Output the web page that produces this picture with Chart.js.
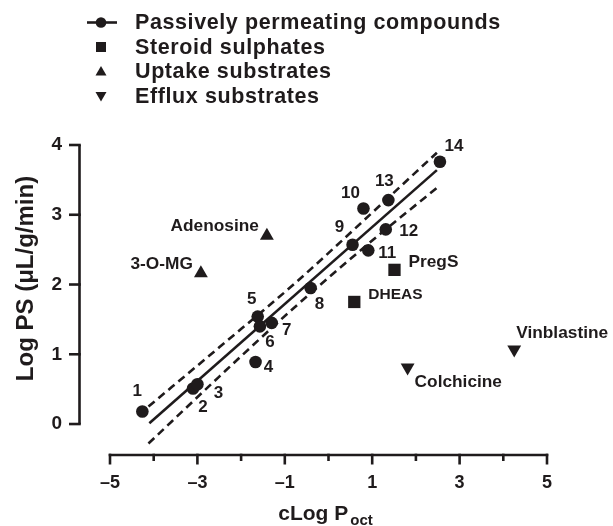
<!DOCTYPE html>
<html>
<head>
<meta charset="utf-8">
<script src="https://cdn.jsdelivr.net/npm/chart.js@4/dist/chart.umd.min.js"></script>
<style>
html,body{margin:0;padding:0;background:#fff;}
#wrap{width:613px;height:526px;position:relative;}
</style>
</head>
<body>
<div id="wrap"><canvas id="c" width="613" height="526"></canvas></div>
<script>
// ---- data ----
const xTicks = [-5,-4,-3,-2,-1,0,1,2,3,4,5];
const yTicks = [0,1,2,3,4];
const passiveLabels = ['1','2','3','4','5','6','7','8','9','10','11','12','13','14'];
const passiveX = [-4.26,-3.10,-3.00,-1.67,-1.62,-1.57,-1.30,-0.41,0.55,0.80,0.91,1.31,1.37,2.55];
const passiveY = [0.18,0.51,0.57,0.89,1.54,1.40,1.45,1.95,2.57,3.09,2.49,2.79,3.21,3.76];
const steroidNames = ['PregS','DHEAS'];
const steroidX = [1.51,0.59];
const steroidY = [2.21,1.75];
const uptakeNames = ['Adenosine','3-O-MG'];
const uptakeX = [-1.41,-2.92];
const uptakeY = [2.70,2.16];
const effluxNames = ['Vinblastine','Colchicine'];
const effluxX = [4.25,1.81];
const effluxY = [1.07,0.81];
const fitX = [-4.10,2.48];
const fitY = [0.01,3.64];
const upperX = [-4.12,-2.5,-0.8,1.0,2.48];
const upperY = [0.25,1.10,2.00,3.03,3.89];
const lowerX = [-4.12,-2.5,-0.8,1.0,2.51];
const lowerY = [-0.28,0.68,1.66,2.63,3.40];
const legendNames = ['Passively permeating compounds','Steroid sulphates','Uptake substrates','Efflux substrates'];
const xTitle = 'cLog P';
const xTitleSub = 'oct';
const yTitle = 'Log PS (\u03BCL/g/min)';

// ---- styles ----
const INK = '#1f1b1c';
const FONT = '"Liberation Sans", Arial, Helvetica, sans-serif';
const numOffsets = [[-5,-20],[10,19],[21,9],[13,5],[-6,-17],[10,16],[15,7],[9,16],[-13,-17],[-13,-15],[19,3],[23,2],[-4,-19],[14,-15]];
const steroidOffsets = [[14,-8,'left'],[14,-7,'left']];
const uptakeOffsets = [[-8,-9,'right'],[-8,-9,'right']];
const effluxOffsets = [[2,-16,'left'],[7,15,'left']];

const pts = (xs, ys) => xs.map((x,i)=>({x:x, y:ys[i]}));

const annotate = {
  id:'annotate',
  beforeDatasetsDraw(chart){
    const ctx = chart.ctx, xs = chart.scales.x, ys = chart.scales.y;
    ctx.save();
    ctx.strokeStyle = INK; ctx.lineWidth = 2.6; ctx.lineCap = 'butt';
    // y axis
    const ax = 79.5;
    ctx.beginPath();
    ctx.moveTo(ax, ys.getPixelForValue(4)); ctx.lineTo(ax, ys.getPixelForValue(0));
    ctx.stroke();
    yTicks.forEach(v=>{
      const p = ys.getPixelForValue(v);
      ctx.beginPath(); ctx.moveTo(69, p); ctx.lineTo(ax+1.3, p); ctx.stroke();
    });
    // x axis
    const ay = 455;
    ctx.beginPath();
    ctx.moveTo(xs.getPixelForValue(-5)-1.3, ay); ctx.lineTo(xs.getPixelForValue(5)+1.3, ay);
    ctx.stroke();
    xTicks.forEach(v=>{
      const p = xs.getPixelForValue(v);
      const len = (Math.abs(v)%2===1) ? 9.5 : 6;
      ctx.beginPath(); ctx.moveTo(p, ay-1.3); ctx.lineTo(p, ay+len); ctx.stroke();
    });
    ctx.restore();
  },
  afterDatasetsDraw(chart){
    const ctx = chart.ctx, xs = chart.scales.x, ys = chart.scales.y;
    ctx.save();
    ctx.fillStyle = INK;
    ctx.textBaseline = 'middle';
    // numeric labels
    ctx.font = 'bold 17px ' + FONT;
    ctx.textAlign = 'center';
    passiveLabels.forEach((t,i)=>{
      const px = xs.getPixelForValue(passiveX[i]), py = ys.getPixelForValue(passiveY[i]);
      ctx.fillText(t, px + numOffsets[i][0], py + numOffsets[i][1]);
    });
    // names
    const named = (names, X, Y, offs) => names.forEach((t,i)=>{
      const px = xs.getPixelForValue(X[i]), py = ys.getPixelForValue(Y[i]);
      ctx.textAlign = offs[i][2];
      ctx.font = (t==='DHEAS' ? 'bold 15.5px ' : 'bold 17.3px ') + FONT;
      ctx.fillText(t, px + offs[i][0], py + offs[i][1]);
    });
    named(steroidNames, steroidX, steroidY, steroidOffsets);
    named(uptakeNames, uptakeX, uptakeY, uptakeOffsets);
    named(effluxNames, effluxX, effluxY, effluxOffsets);

    // legend
    const rows = [22.5, 47, 71.5, 96];
    const mx = 101, tx = 135;
    ctx.strokeStyle = INK; ctx.lineWidth = 2.6;
    ctx.beginPath(); ctx.moveTo(87, rows[0]); ctx.lineTo(117, rows[0]); ctx.stroke();
    ctx.beginPath(); ctx.arc(mx, rows[0], 5.3, 0, Math.PI*2); ctx.fill();
    ctx.fillRect(mx-5, rows[1]-5, 10, 10);
    ctx.beginPath(); ctx.moveTo(mx, rows[2]-5.5); ctx.lineTo(mx+5.5, rows[2]+4); ctx.lineTo(mx-5.5, rows[2]+4); ctx.closePath(); ctx.fill();
    ctx.beginPath(); ctx.moveTo(mx, rows[3]+5.5); ctx.lineTo(mx+5.5, rows[3]-4); ctx.lineTo(mx-5.5, rows[3]-4); ctx.closePath(); ctx.fill();
    ctx.font = 'bold 21.5px ' + FONT;
    ctx.textAlign = 'left';
    try { ctx.letterSpacing = '0.6px'; } catch(e) {}
    legendNames.forEach((t,i)=>ctx.fillText(t, tx, rows[i]+1));
    try { ctx.letterSpacing = '0px'; } catch(e) {}

    // x title with subscript
    ctx.textBaseline = 'alphabetic';
    ctx.font = 'bold 21px ' + FONT;
    const w1 = ctx.measureText(xTitle).width;
    ctx.font = 'bold 15px ' + FONT;
    const w2 = ctx.measureText(xTitleSub).width;
    const cx = (xs.getPixelForValue(-5) + xs.getPixelForValue(5))/2 - 3;
    const start = cx - (w1 + 2 + w2)/2;
    ctx.font = 'bold 21px ' + FONT;
    ctx.fillText(xTitle, start, 520);
    ctx.font = 'bold 15px ' + FONT;
    ctx.fillText(xTitleSub, start + w1 + 2, 525);

    // y title
    ctx.save();
    ctx.translate(26, (ys.getPixelForValue(4)+ys.getPixelForValue(0))/2 - 6);
    ctx.rotate(-Math.PI/2);
    ctx.textAlign = 'center';
    ctx.textBaseline = 'middle';
    ctx.font = 'bold 24px ' + FONT;
    ctx.fillText(yTitle, 0, 0);
    ctx.restore();
    ctx.restore();
  }
};

new Chart(document.getElementById('c'), {
  type:'scatter',
  data:{
    datasets:[
      {label:legendNames[0], data:pts(passiveX,passiveY), pointStyle:'circle', pointRadius:6.3, backgroundColor:INK, borderColor:INK, borderWidth:0},
      {label:legendNames[1], data:pts(steroidX,steroidY), pointStyle:'rect', pointRadius:8.7, backgroundColor:INK, borderColor:INK, borderWidth:0},
      {label:legendNames[2], data:pts(uptakeX,uptakeY), pointStyle:'triangle', pointRadius:8, backgroundColor:INK, borderColor:INK, borderWidth:0},
      {label:legendNames[3], data:pts(effluxX,effluxY), pointStyle:'triangle', rotation:180, pointRadius:8, backgroundColor:INK, borderColor:INK, borderWidth:0},
      {label:'fit', data:pts(fitX,fitY), showLine:true, pointRadius:0, borderColor:INK, borderWidth:2.6, fill:false},
      {label:'upper', data:pts(upperX,upperY), showLine:true, pointRadius:0, borderColor:INK, borderWidth:2.6, borderDash:[8,5], cubicInterpolationMode:'monotone', fill:false},
      {label:'lower', data:pts(lowerX,lowerY), showLine:true, pointRadius:0, borderColor:INK, borderWidth:2.6, borderDash:[8,5], cubicInterpolationMode:'monotone', fill:false}
    ]
  },
  options:{
    responsive:false,
    animation:false,
    devicePixelRatio:1,
    layout:{padding:{top:145,right:66,left:0,bottom:0}},
    plugins:{legend:{display:false}, tooltip:{enabled:false}},
    scales:{
      x:{
        type:'linear', min:-5.6865, max:5,
        grid:{display:false, drawTicks:false}, border:{display:false},
        afterBuildTicks(s){ s.ticks = xTicks.map(v=>({value:v})); },
        afterFit(s){ s.height = 71; },
        ticks:{autoSkip:false, maxRotation:0, padding:17, color:INK, font:{family:FONT, size:18, weight:'bold'},
          callback:(v)=> (Math.abs(v)%2===1) ? (v<0 ? '\u2013'+Math.abs(v) : String(v)) : ''}
      },
      y:{
        type:'linear', min:-0.444, max:4,
        grid:{display:false, drawTicks:false}, border:{display:false},
        afterBuildTicks(s){ s.ticks = yTicks.map(v=>({value:v})); },
        afterFit(s){ s.width = 80; },
        ticks:{autoSkip:false, padding:18, color:INK, font:{family:FONT, size:19, weight:'bold'}, callback:(v)=>String(v)}
      }
    }
  },
  plugins:[annotate]
});
</script>
</body>
</html>
